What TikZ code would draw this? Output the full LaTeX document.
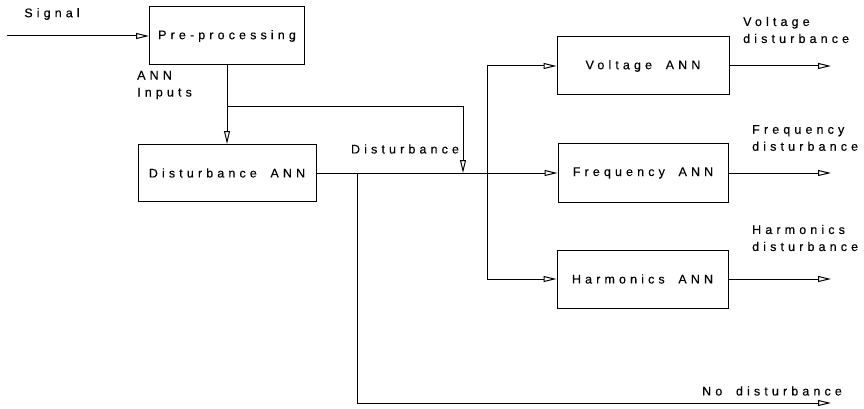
\documentclass[tikz,border=0pt]{standalone}
\usepackage{fontspec}
\newfontfamily\diagfont[LetterSpace=33, WordSpace=1.8, FakeBold=0.3]{Liberation Sans}
\usetikzlibrary{arrows.meta}

\tikzset{
  block/.style = {draw, line width=1pt, minimum width=172pt, minimum height=58pt, inner sep=0pt},
  txt/.style = {inner sep=0pt, align=left},
  flow/.style = {line width=1pt, -{Triangle[open, length=13pt, width=6pt]}},
}

\begin{document}
\begin{tikzpicture}[x=1pt, y=-1pt, every node/.style={font=\diagfont\fontsize{12.5}{17}\selectfont}]
\useasboundingbox ( 0, 0 ) rectangle ( 864, 409 );

% Blocks
\node[block, minimum width=155pt] (pre) at ( 227, 36 ) {Pre-processing};
\node[block, minimum width=178pt, minimum height=57pt] (dann) at ( 227, 173 ) {Disturbance ANN};
\node[block] (vann) at ( 643, 66 ) {Voltage ANN};
\node[block, minimum width=170pt, minimum height=59pt] (fann) at ( 643, 173 ) {Frequency ANN};
\node[block, minimum width=171pt] (hann) at ( 642.5, 279 ) {Harmonics ANN};

% Free ends and bends
\coordinate (sig) at ( 7, 36 );
\coordinate (split) at ( 227, 107 );
\coordinate (turn) at ( 463, 107 );
\coordinate (tap) at ( 463, 173 );
\coordinate (bus) at ( 487, 173 );
\coordinate (drop) at ( 357, 173 );
\coordinate (nodist) at ( 831, 403 );
\coordinate (out) at ( 831, 0 );

% Signal path
\draw[flow] (sig) -- (pre.west);
\draw[flow] (pre.south) -- (dann.north);
\draw[flow] (split) -- (turn) -- (tap);
\draw[flow] (dann.east) -- (fann.west);
\draw[flow] (bus) |- (vann.west);
\draw[flow] (bus) |- (hann.west);
\draw[flow] (drop) |- (nodist);

% Outputs
\draw[flow] (vann.east) -- (out |- vann.east);
\draw[flow] (fann.east) -- (out |- fann.east);
\draw[flow] (hann.east) -- (out |- hann.east);

% Labels
\node[txt] (sigtxt) at ( 52, 14 ) {Signal};
\node[txt, anchor=west] (inputs) at ( 137, 85 ) {ANN\\Inputs};
\node[txt] (disttxt) at ( 405, 149 ) {Disturbance};
\node[txt, anchor=west] (vtxt) at ( 743, 30 ) {Voltage\\disturbance};
\node[txt, anchor=west] (ftxt) at ( 752, 138 ) {Frequency\\disturbance};
\node[txt, anchor=west] (htxt) at ( 752, 238 ) {Harmonics\\disturbance};
\node[txt, anchor=west] (ntxt) at ( 702, 391 ) {No disturbance};

\end{tikzpicture}
\end{document}
